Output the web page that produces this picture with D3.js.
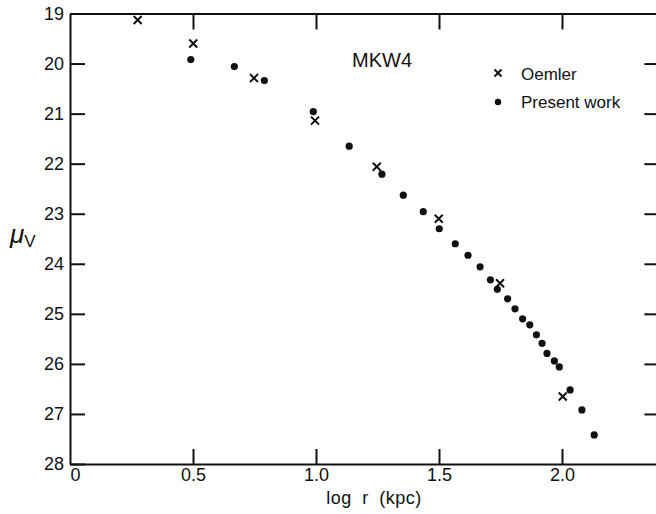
<!DOCTYPE html>
<html lang="en">
<head>
<meta charset="UTF-8">
<title>MKW4 surface brightness profile</title>
<script src="https://d3js.org/d3.v7.min.js"></script>
<style>
  body { margin: 0; background: #fff; }
  text { font-family: "Liberation Sans", Arial, sans-serif; fill: #111; }
</style>
</head>
<body>
<svg id="chart" width="656" height="514"></svg>
<script>
// Oemler points (log r, mu_V)
const oemlerX = [0.275, 0.501, 0.748, 0.996, 1.247, 1.499, 1.748, 2.003];
const oemlerY = [19.13, 19.60, 20.29, 21.14, 22.06, 23.10, 24.39, 26.65];

// present work points
const presentX = [0.491, 0.668, 0.790, 0.989, 1.135, 1.268, 1.355, 1.436, 1.501, 1.566,
                  1.618, 1.667, 1.709, 1.737, 1.779, 1.809, 1.840, 1.869, 1.896, 1.919,
                  1.939, 1.969, 1.989, 2.033, 2.081, 2.131];
const presentY = [19.92, 20.06, 20.34, 20.96, 21.65, 22.21, 22.63, 22.96, 23.30, 23.60,
                  23.83, 24.06, 24.32, 24.51, 24.70, 24.90, 25.10, 25.22, 25.42, 25.59,
                  25.79, 25.94, 26.06, 26.52, 26.92, 27.42];

const xTicks = [0, 0.5, 1.0, 1.5, 2.0];
const xTickLabels = ["0", "0.5", "1.0", "1.5", "2.0"];
const yTicks = [19, 20, 21, 22, 23, 24, 25, 26, 27, 28];

const svg = d3.select("#chart");
const mLeft = 70, mRight = 660.4, mTop = 13.5, mBottom = 464;

const xScale = d3.scaleLinear().domain([0, 2.4]).range([mLeft, mRight]);
const yScale = d3.scaleLinear().domain([19, 28]).range([mTop, mBottom]);

function styleAxis(g) {
  g.select(".domain").attr("stroke", "#111").attr("stroke-width", 2);
  g.selectAll(".tick line").attr("stroke", "#111").attr("stroke-width", 2);
  g.selectAll(".tick text").style("font-size", "18px").attr("fill", "#111");
}

// left axis, ticks pointing in
svg.append("g")
  .attr("transform", `translate(${mLeft},0)`)
  .call(d3.axisLeft(yScale).tickValues(yTicks).tickFormat(d3.format("d"))
    .tickSizeInner(-15).tickSizeOuter(0).tickPadding(6))
  .call(styleAxis);

// right axis (mostly off canvas)
svg.append("g")
  .attr("transform", `translate(${mRight},0)`)
  .call(d3.axisRight(yScale).tickValues(yTicks.slice(1, -1)).tickFormat(() => "")
    .tickSizeInner(-16).tickSizeOuter(0))
  .call(styleAxis);

// bottom axis
svg.append("g")
  .attr("transform", `translate(0,${mBottom})`)
  .call(d3.axisBottom(xScale).tickValues(xTicks).tickFormat((d, i) => xTickLabels[i])
    .tickSizeInner(-15).tickSizeOuter(0).tickPadding(4))
  .call(styleAxis)
  .call(g => g.selectAll(".tick").filter(d => d === 0).select("line").remove())
  .call(g => g.selectAll(".tick").filter(d => d === 0).select("text").attr("x", 5));

// top axis
svg.append("g")
  .attr("transform", `translate(0,${mTop})`)
  .call(d3.axisTop(xScale).tickValues(xTicks.slice(1)).tickFormat(() => "")
    .tickSizeInner(-16).tickSizeOuter(0))
  .call(styleAxis);

// axis titles
svg.append("text")
  .attr("x", 374).attr("y", 504)
  .attr("text-anchor", "middle")
  .style("font-size", "18px")
  .style("letter-spacing", "0.5px")
  .style("word-spacing", "5px")
  .text("log r (kpc)");

const muLabel = svg.append("text")
  .attr("x", 10).attr("y", 243)
  .style("font-size", "26px");
muLabel.append("tspan").style("font-style", "italic").text("\u03bc");
muLabel.append("tspan").attr("dy", 4).style("font-size", "17px").text("V");

// title
svg.append("text")
  .attr("x", 352).attr("y", 67)
  .style("font-size", "20px")
  .text("MKW4");

// cross marks
const cs = 4;
const oemlerPts = oemlerX.map((d, i) => ({ x: d, y: oemlerY[i] }));
svg.append("g").selectAll("path")
  .data(oemlerPts)
  .join("path")
  .attr("d", d => {
    const px = xScale(d.x), py = yScale(d.y);
    return `M${px - cs},${py - cs}L${px + cs},${py + cs}M${px - cs},${py + cs}L${px + cs},${py - cs}`;
  })
  .attr("stroke", "#111")
  .attr("stroke-width", 2);

// dots
const presentPts = presentX.map((d, i) => ({ x: d, y: presentY[i] }));
svg.append("g").selectAll("circle")
  .data(presentPts)
  .join("circle")
  .attr("cx", d => xScale(d.x))
  .attr("cy", d => yScale(d.y))
  .attr("r", 3.6)
  .attr("fill", "#111");

// legend
const legendG = svg.append("g");
legendG.append("path")
  .attr("d", `M${498 - 3.5},${73 - 3.5}L${498 + 3.5},${73 + 3.5}M${498 - 3.5},${73 + 3.5}L${498 + 3.5},${73 - 3.5}`)
  .attr("stroke", "#111").attr("stroke-width", 2);
legendG.append("text").attr("x", 521).attr("y", 80).style("font-size", "17px").text("Oemler");
legendG.append("circle").attr("cx", 498).attr("cy", 102).attr("r", 3.2).attr("fill", "#111");
legendG.append("text").attr("x", 521).attr("y", 108).style("font-size", "17px").text("Present work");
</script>
</body>
</html>
